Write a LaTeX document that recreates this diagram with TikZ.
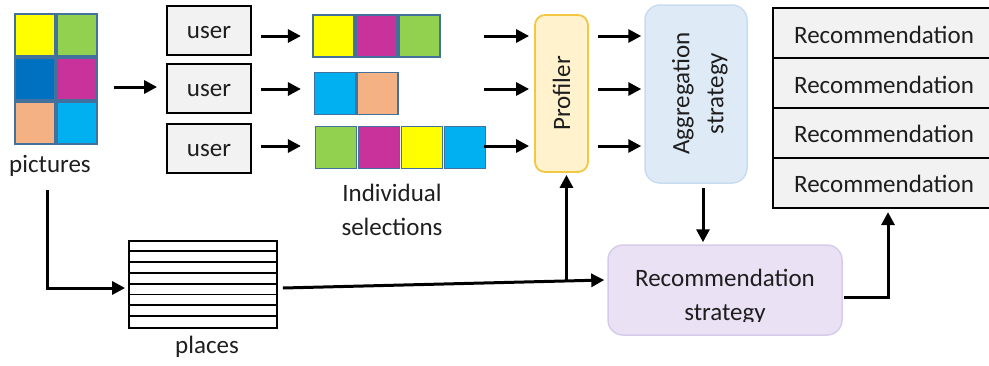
\documentclass[tikz,border=0pt]{standalone}
\usepackage{fontspec}
\setmainfont{Carlito}
\usetikzlibrary{arrows.meta,calc}

\definecolor{cyellow}{HTML}{FFFF00}
\definecolor{cgreen}{HTML}{92D050}
\definecolor{cdblue}{HTML}{0070C0}
\definecolor{cmagenta}{HTML}{C8329A}
\definecolor{cpeach}{HTML}{F4B183}
\definecolor{ccyan}{HTML}{00B0F0}
\definecolor{cellline}{HTML}{41719C}
\definecolor{boxgray}{HTML}{F2F2F2}
\definecolor{proffill}{HTML}{FFF2CC}
\definecolor{profline}{HTML}{F2C744}
\definecolor{aggfill}{HTML}{DEEBF7}
\definecolor{aggline}{HTML}{C9DCEF}
\definecolor{rsfill}{HTML}{EBE1F5}
\definecolor{rsline}{HTML}{D6CCEA}
\definecolor{ink}{HTML}{1E1E1E}

\begin{document}
\begin{tikzpicture}[x=1pt,y=-1pt,
  font=\fontsize{25}{34}\selectfont, text=ink,
  arr/.style={line width=3pt, draw=black, -{Triangle[length=13pt,width=13pt]}},
  cell/.style={draw=cellline, line width=1.4pt, minimum width=40pt, minimum height=42pt, inner sep=0pt},
  pick/.style={draw=cellline, line width=1.4pt, minimum width=41pt, minimum height=42pt, inner sep=0pt},
  userbox/.style={draw, line width=1.8pt, fill=boxgray, minimum width=84pt, minimum height=49pt, inner sep=0pt},
  recrow/.style={draw, line width=2.2pt, fill=boxgray, minimum width=222pt, minimum height=50pt, inner sep=0pt},
  lbl/.style={inner sep=0pt, align=center}]

\useasboundingbox (0,0) rectangle (989,365);
\clip (0,0) rectangle (989,365);

% picture collection
\node[cell, fill=cyellow]  (g11) at (35,35)  {};
\node[cell, fill=cgreen]   (g12) at (77,35)  {};
\node[cell, fill=cdblue]   (g21) at (35,79)  {};
\node[cell, fill=cmagenta] (g22) at (77,79)  {};
\node[cell, fill=cpeach]   (g31) at (35,123) {};
\node[cell, fill=ccyan]    (g32) at (77,123) {};
\node[lbl] (picl) at (50,166) {pictures};

% users
\node[userbox] (u1) at (209,30.5)  {};
\node[userbox] (u2) at (209,88.5)  {};
\node[userbox] (u3) at (209,148.5) {};
\node[lbl] (u1t) at (209,33)  {user};
\node[lbl] (u2t) at (209,91)  {user};
\node[lbl] (u3t) at (209,151) {user};

% individual selections
\node[pick, fill=cyellow]  (s11) at (333.5,36) {};
\node[pick, fill=cmagenta] (s12) at (376.5,36) {};
\node[pick, fill=cgreen]   (s13) at (419.5,36) {};
\node[pick, fill=ccyan]    (s21) at (335,93.5) {};
\node[pick, fill=cpeach]   (s22) at (377.5,93.5) {};
\node[pick, fill=cgreen]   (s31) at (336,147.5) {};
\node[pick, fill=cmagenta] (s32) at (379,147.5) {};
\node[pick, fill=cyellow]  (s33) at (422,147.5) {};
\node[pick, fill=ccyan]    (s34) at (465,147.5) {};
\node[lbl] (sell) at (392,210) {Individual\\selections};

% profiler and aggregation
\node[draw=profline, fill=proffill, line width=1.8pt, rounded corners=10pt,
      minimum width=53pt, minimum height=157pt, inner sep=0pt] (prof) at (561.5,93.5) {};
\node[lbl, rotate=90] (proft) at (prof.center) {Profiler};
\node[draw=aggline, fill=aggfill, line width=1.5pt, rounded corners=15pt,
      minimum width=102pt, minimum height=178pt, inner sep=0pt] (agg) at (696,94) {};
\node[lbl, rotate=90] (aggt) at (700,93.5) {Aggregation\\strategy};

% recommendation list
\node[recrow] (r1) at (884,33)  {};
\node[recrow] (r2) at (884,83)  {};
\node[recrow] (r3) at (884,133) {};
\node[recrow] (r4) at (884,183) {};
\node[lbl] (r1t) at (884,35)  {Recommendation};
\node[lbl] (r2t) at (884,85)  {Recommendation};
\node[lbl] (r3t) at (884,134) {Recommendation};
\node[lbl] (r4t) at (884,184) {Recommendation};

% recommendation strategy
\node[draw=rsline, fill=rsfill, line width=1.5pt, rounded corners=15pt,
      minimum width=234pt, minimum height=90pt, inner sep=0pt] (rs) at (725,290) {};
\begin{scope}
  \clip (600,240) rectangle (850,321);
  \node[lbl] (rst) at (725,297) {Recommendation\\strategy};
\end{scope}

% places
\node[draw, line width=1.8pt, fill=white, minimum width=148pt, minimum height=87pt, inner sep=0pt] (places) at (203,284.5) {};
\foreach \k in {1,...,7}
  \draw[line width=1.8pt] ($(places.north west)+(0,\k*10.875)$) -- ($(places.north east)+(0,\k*10.875)$);
\node[lbl] (placesl) at (207,347) {places};

% row levels of the selection flow
\coordinate (lv1) at (0,36);
\coordinate (lv2) at (0,89);
\coordinate (lv3) at (0,146);

% connectors
\draw[arr] ($(g22.east)+(16,8)$) -- ($(u2.west)+(-9,-1.5)$);
\foreach \u/\l in {u1/lv1, u2/lv2, u3/lv3} {
  \draw[arr] ($(\u.east |- \l)+(9,0)$) -- ($(\u.east |- \l)+(49,0)$);
  \draw[arr] ($(prof.west |- \l)+(-50,0)$) -- ($(prof.west |- \l)+(-5,0)$);
  \draw[arr] ($(prof.east |- \l)+(9,0)$) -- ($(agg.west |- \l)+(-3,0)$);
}
\coordinate (aggdrop) at ($(agg.south)+(7,4)$);
\draw[arr] (aggdrop) -- ($(aggdrop |- rs.north)+(0,-2)$);
\draw[arr] ($(rs.east)+(1,7)$) -| ($(r4.south)+(4,3)$);

\coordinate (picdrop) at (47,190);
\draw[arr] (picdrop) |- ($(places.west)+(-3,3.5)$);

\coordinate (pout) at ($(places.east)+(5,3.5)$);
\coordinate (rin) at ($(rs.west)+(-3,-10)$);
\draw[arr] (pout) -- (rin);
\coordinate (jn) at ($(pout)!0.8824!(rin)$);
\draw[arr, shorten >=2pt] (jn) -- (jn |- prof.south);
\end{tikzpicture}
\end{document}
